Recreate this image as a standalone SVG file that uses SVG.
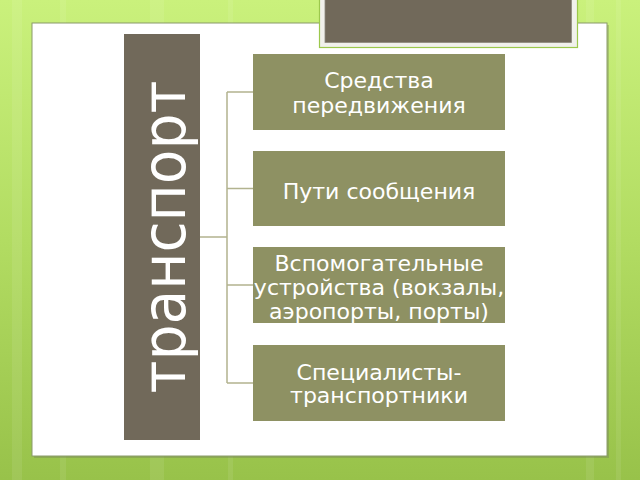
<svg xmlns="http://www.w3.org/2000/svg" width="640" height="480" viewBox="0 0 640 480">
<defs>
<linearGradient id="bg" x1="0" y1="0" x2="0" y2="1">
<stop offset="0" stop-color="#caf17c"/>
<stop offset="0.5" stop-color="#b2dc62"/>
<stop offset="1" stop-color="#98c24a"/>
</linearGradient>
<style>
.box{fill:#8e9163}
.lbl{font-family:"DejaVu Sans",sans-serif;font-size:21px;fill:#ffffff;text-anchor:middle}
.con{stroke:#b2b38f;stroke-width:1.5;fill:none}
.stripe{fill:#ffffff;opacity:0.08}
</style>
</defs>
<rect x="0" y="0" width="640" height="480" fill="url(#bg)"/>
<rect class="stripe" x="12" y="0" width="10" height="480"/>
<rect class="stripe" x="60" y="0" width="6" height="480"/>
<rect class="stripe" x="150" y="0" width="14" height="480"/>
<rect class="stripe" x="228" y="0" width="5" height="480"/>
<rect class="stripe" x="586" y="0" width="8" height="480"/>
<rect class="stripe" x="616" y="0" width="5" height="480"/>
<!-- panel -->
<rect x="34" y="25" width="575" height="433" fill="#6f7a58" opacity="0.35"/>
<rect x="32" y="23" width="575" height="433" fill="#ffffff" stroke="#8a9a6a" stroke-width="1"/>
<!-- title box -->
<g id="title">
<rect x="319.5" y="-2" width="258" height="49.5" fill="#f1f1ec" stroke="#9cc84c" stroke-width="1.2"/>
<rect x="325" y="-2" width="246.5" height="44.5" fill="#71695a" stroke="#8e897e" stroke-width="0.8"/>
</g>
<g id="connectors">
<path class="con" d="M200 237 H227 M227 92 V383 M227 92 H253 M227 188.5 H253 M227 285 H253 M227 383 H253"/>
</g>
<g id="root">
<rect x="124" y="34" width="76" height="406" fill="#71695a"/>
<text transform="translate(185,237) rotate(-90)" x="0" y="0" font-family="DejaVu Sans, sans-serif" font-size="60" fill="#ffffff" text-anchor="middle" textLength="313" lengthAdjust="spacingAndGlyphs">транспорт</text>
</g>
<g id="n1">
<rect class="box" x="253" y="54" width="252" height="76"/>
<g transform="translate(379,0) scale(1.05,1)">
<text class="lbl" x="0" y="88">Средства</text>
<text class="lbl" x="0" y="113">передвижения</text>
</g>
</g>
<g id="n2">
<rect class="box" x="253" y="151" width="252" height="75"/>
<g transform="translate(379,0) scale(1.05,1)">
<text class="lbl" x="0" y="199">Пути сообщения</text>
</g>
</g>
<g id="n3">
<rect class="box" x="253" y="247" width="252" height="76"/>
<g transform="translate(379,0) scale(1.05,1)">
<text class="lbl" x="0" y="271">Вспомогательные</text>
<text class="lbl" x="0" y="295">устройства (вокзалы,</text>
<text class="lbl" x="0" y="319">аэропорты, порты)</text>
</g>
</g>
<g id="n4">
<rect class="box" x="253" y="345" width="252" height="76"/>
<g transform="translate(379,0) scale(1.05,1)">
<text class="lbl" x="0" y="380">Специалисты-</text>
<text class="lbl" x="0" y="403.5">транспортники</text>
</g>
</g>
</svg>
